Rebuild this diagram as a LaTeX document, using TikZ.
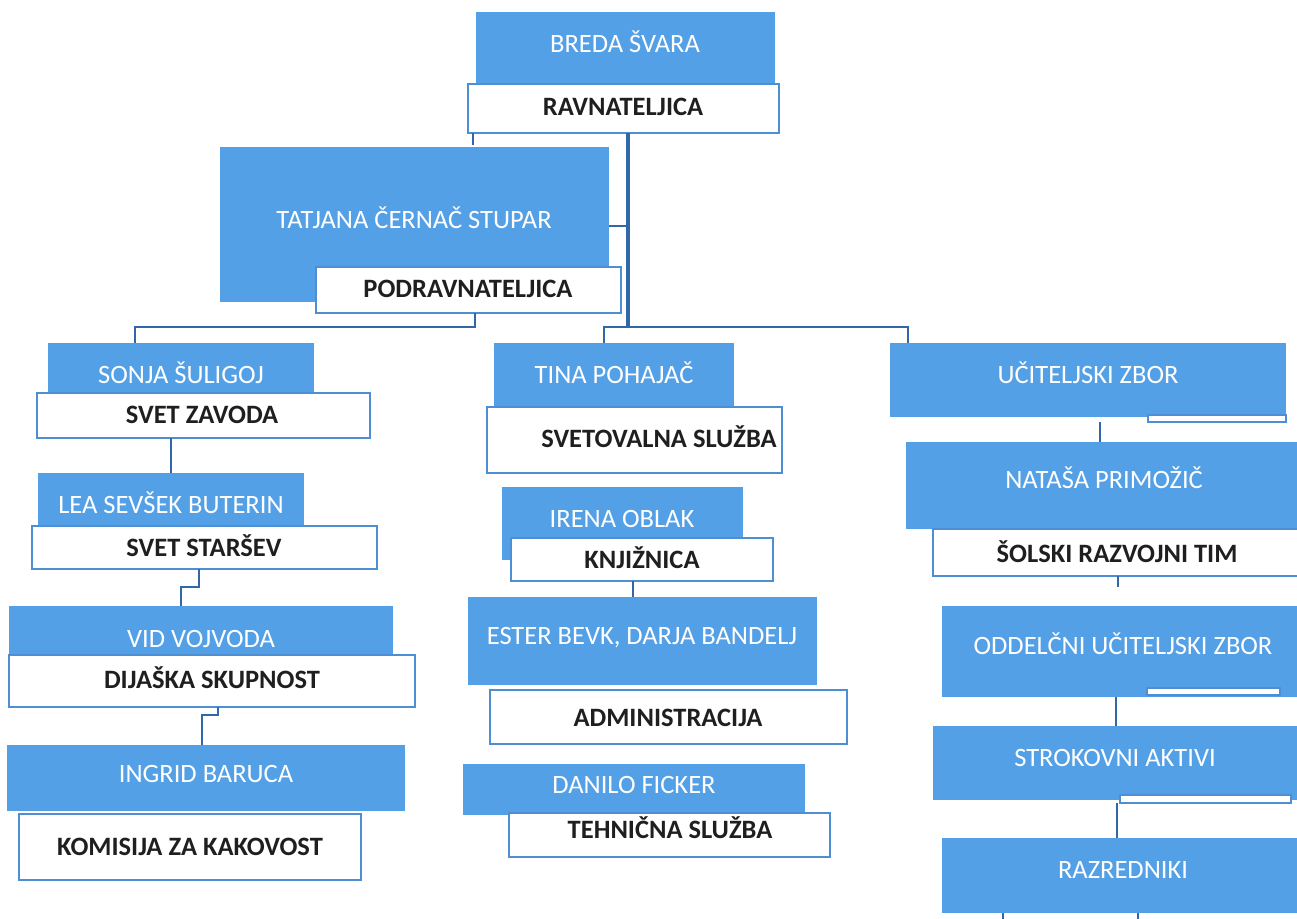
\documentclass[tikz,border=0pt]{standalone}
\usepackage{fontspec}
\setmainfont{Carlito}
\definecolor{boxblue}{RGB}{84,160,230}
\definecolor{edgeblue}{RGB}{78,142,212}
\definecolor{linkblue}{RGB}{48,104,168}
\tikzset{
  bluebox/.style={fill=boxblue, draw=none, inner sep=0pt, outer sep=0pt},
  whitebox/.style={fill=white, draw=edgeblue, line width=1.6pt, inner sep=0pt, outer sep=0pt},
  wtext/.style={text=white, font=\fontsize{26.5}{31}\selectfont, inner sep=0pt, anchor=base},
  btext/.style={text=black!88, font=\bfseries\fontsize{26.5}{31}\selectfont, inner sep=0pt, anchor=base},
  link/.style={draw=linkblue, line width=1.6pt},
  trunk/.style={draw=linkblue, line width=3.6pt},
}
\newcommand\orgbox[6]{\node[#1, minimum width={#4-#2}, minimum height={#5-#3}] (#6) at ({(#2+#4)/2},{(#3+#5)/2}) {};}
\begin{document}
\begin{tikzpicture}[x=1pt,y=-1pt]
\useasboundingbox (0,0) rectangle (1297,918);
\clip (0,0) rectangle (1297,918);
% ---- top
\orgbox{bluebox}{476}{12}{775}{85}{breda}
\orgbox{whitebox}{468}{84}{779}{133}{ravn}
\orgbox{bluebox}{220}{147}{609}{302}{tat}
\orgbox{whitebox}{316}{267}{621}{313}{podr}
% ---- left column
\orgbox{bluebox}{48}{343}{314}{393}{sonja}
\orgbox{whitebox}{37}{393}{370}{438}{zavod}
\orgbox{bluebox}{38}{473}{304}{526}{lea}
\orgbox{whitebox}{32}{526}{377}{569}{stars}
\orgbox{bluebox}{9}{606}{393}{655}{vid}
\orgbox{whitebox}{9}{655}{415}{707}{dij}
\orgbox{bluebox}{7}{745}{405}{811}{ingrid}
\orgbox{whitebox}{19}{814}{361}{880}{kom}
% ---- middle column
\orgbox{bluebox}{494}{343}{734}{407}{tina}
\orgbox{whitebox}{487}{407}{782}{473}{svet}
\orgbox{bluebox}{502}{487}{743}{560}{irena}
\orgbox{whitebox}{511}{538}{773}{581}{knj}
\orgbox{bluebox}{468}{597}{817}{685}{ester}
\orgbox{whitebox}{490}{690}{847}{744}{adm}
\orgbox{bluebox}{463}{764}{805}{815}{danilo}
\orgbox{whitebox}{509}{813}{830}{857}{teh}
% ---- right column
\orgbox{bluebox}{890}{343}{1286}{417}{ucit}
\orgbox{whitebox}{1148}{415}{1286}{422}{ucitbar}
\orgbox{bluebox}{906}{442}{1320}{529}{natasa}
\orgbox{whitebox}{933}{529}{1320}{576}{solski}
\orgbox{bluebox}{942}{606}{1320}{697}{odd}
\orgbox{whitebox}{1147}{688}{1280}{695}{oddbar}
\orgbox{bluebox}{933}{726}{1320}{800}{strok}
\orgbox{whitebox}{1120}{795}{1291}{803}{strokbar}
\orgbox{bluebox}{942}{838}{1320}{913}{raz}
% ---- texts
\node[wtext] (t-breda) at (625,52) {BREDA ŠVARA};
\node[btext] (t-ravn) at (623,115) {RAVNATELJICA};
\node[wtext] (t-tat) at (414,228) {TATJANA ČERNAČ STUPAR};
\node[btext] (t-podr) at (468,297) {PODRAVNATELJICA};
\node[wtext] (t-sonja) at (181,383) {SONJA ŠULIGOJ};
\node[btext] (t-zavod) at (202,423) {SVET ZAVODA};
\node[wtext] (t-lea) at (171,513) {LEA SEVŠEK BUTERIN};
\node[btext] (t-stars) at (204,556) {SVET STARŠEV};
\node[wtext] (t-vid) at (201,647) {VID VOJVODA};
\node[btext] (t-dij) at (212,688) {DIJAŠKA SKUPNOST};
\node[wtext] (t-ingrid) at (206,782) {INGRID BARUCA};
\node[btext] (t-kom) at (190,855) {KOMISIJA ZA KAKOVOST};
\node[wtext] (t-tina) at (614,383) {TINA POHAJAČ};
\node[btext] (t-svet) at (659,447) {SVETOVALNA SLUŽBA};
\node[wtext] (t-irena) at (622,527) {IRENA OBLAK};
\node[btext] (t-knj) at (642,568) {KNJIŽNICA};
\node[wtext] (t-ester) at (642,644) {ESTER BEVK, DARJA BANDELJ};
\node[btext] (t-adm) at (668,726) {ADMINISTRACIJA};
\node[wtext] (t-danilo) at (634,793) {DANILO FICKER};
\node[btext] (t-teh) at (670,838) {TEHNIČNA SLUŽBA};
\node[wtext] (t-ucit) at (1088,383) {UČITELJSKI ZBOR};
\node[wtext] (t-natasa) at (1104,488) {NATAŠA PRIMOŽIČ};
\node[btext] (t-solski) at (1117,562) {ŠOLSKI RAZVOJNI TIM};
\node[wtext] (t-odd) at (1123,654) {ODDELČNI UČITELJSKI ZBOR};
\node[wtext] (t-strok) at (1115,766) {STROKOVNI AKTIVI};
\node[wtext] (t-raz) at (1123,878) {RAZREDNIKI};
% ---- connectors
\coordinate (bus) at (628,327);
\draw[trunk] (ravn.south -| bus) -- (bus);
\draw[link] ([xshift=5pt]ravn.south west) -- ++(0,12);
\draw[link] (tat.east |- 0,226) -- (bus |- 0,226);
\draw[link] (tina.north -| 604,0) -- (604,327) -- (908,327) -- (ucit.north -| 908,0);
\draw[link] (podr.south -| 475,0) -- (475,327) -- (135,327) -- (sonja.north -| 135,0);
\draw[link] (zavod.south -| 171,0) -- (lea.north -| 171,0);
\draw[link] (stars.south -| 199,0) -- (199,587) -- (181,587) -- (vid.north -| 181,0);
\draw[link] (dij.south -| 218,0) -- (218,715) -- (202,715) -- (ingrid.north -| 202,0);
\draw[link] (knj.south -| 633,0) -- (ester.north -| 633,0);
\draw[link] (ucitbar.south -| 1100,0) -- (natasa.north -| 1100,0);
\draw[link] (solski.south -| 1118,0) -- ++(0,11);
\draw[link] (odd.south -| 1116,0) -- (strok.north -| 1116,0);
\draw[link] (strokbar.south -| 1117,0) -- (raz.north -| 1117,0);
\draw[link] (raz.south -| 1003,0) -- ++(0,8);
\draw[link] (raz.south -| 1138,0) -- ++(0,8);
\end{tikzpicture}
\end{document}
